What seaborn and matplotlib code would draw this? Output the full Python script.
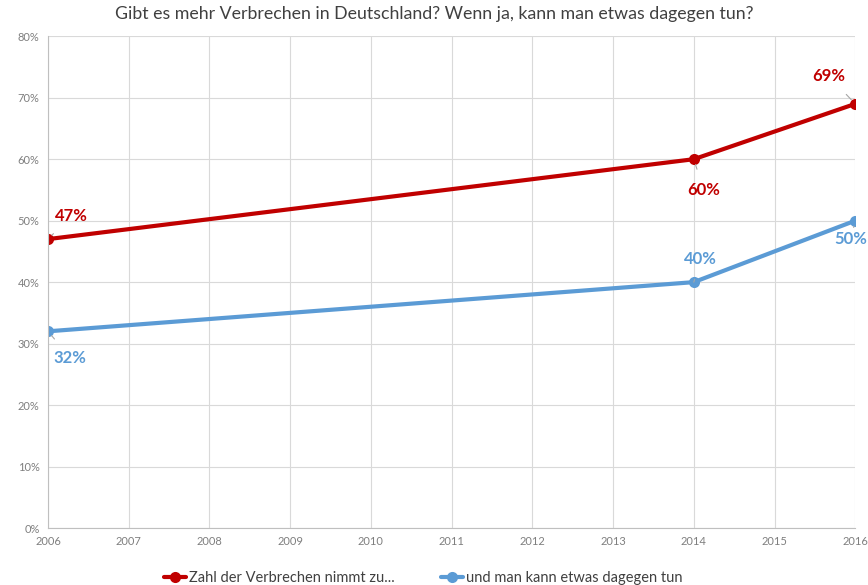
import matplotlib
matplotlib.use("Agg")
import matplotlib.pyplot as plt
import seaborn as sns
import pandas as pd
from matplotlib.ticker import FuncFormatter

# data
years = [2006, 2014, 2016]
crime_up = [47, 60, 69]
can_do = [32, 40, 50]
series_names = ["Zahl der Verbrechen nimmt zu...", "und man kann etwas dagegen tun"]
colors = ["#C00000", "#5B9BD5"]

df = pd.DataFrame({
    "year": years * 2,
    "value": crime_up + can_do,
    "series": [series_names[0]] * 3 + [series_names[1]] * 3,
})

sns.set_style("white")
plt.rcParams["font.family"] = ["Lato", "DejaVu Sans"]

fig = plt.figure(figsize=(8.68, 5.85), dpi=100)
ax = fig.add_axes([0.0553, 0.0974, 0.93, 0.8406])

sns.lineplot(data=df, x="year", y="value", hue="series", palette=colors,
             marker="o", markersize=8, markeredgewidth=0, linewidth=3,
             ax=ax, legend=True)

ax.set_xlim(2006, 2016)
ax.set_ylim(0, 80)
ax.set_xticks(range(2006, 2017))
ax.set_yticks(range(0, 81, 10))
ax.yaxis.set_major_formatter(FuncFormatter(lambda v, p: f"{int(v)}%"))
ax.tick_params(axis="both", labelsize=8, colors="#7F7F7F", length=0, pad=6)
ax.grid(True, color="#D9D9D9", linewidth=0.8)
ax.set_axisbelow(True)
for side in ["top", "right"]:
    ax.spines[side].set_visible(False)
for side in ["left", "bottom"]:
    ax.spines[side].set_color("#BFBFBF")
ax.set_xlabel("")
ax.set_ylabel("")

# value labels with small leader lines (offsets in points)
label_offsets = {
    (0, 0): (17, 17), (0, 1): (7, -22), (0, 2): (-19, 20),
    (1, 0): (16, -19), (1, 1): (5, 17), (1, 2): (-3, -13),
}
for si, vals in enumerate([crime_up, can_do]):
    for pi, (yr, v) in enumerate(zip(years, vals)):
        dx, dy = label_offsets[(si, pi)]
        ax.annotate(f"{v}%", xy=(yr, v), xytext=(dx, dy),
                    textcoords="offset points", ha="center", va="center",
                    fontsize=12, fontweight="bold", color=colors[si],
                    arrowprops=dict(arrowstyle="-", color="#A6A6A6", lw=0.8,
                                    shrinkA=7, shrinkB=4),
                    annotation_clip=False)

ax.legend(loc="upper center", bbox_to_anchor=(0.465, -0.06), ncol=2,
          frameon=False, fontsize=10.5, handlelength=1.5, handletextpad=0.2,
          columnspacing=3.2, labelcolor="#404040")

fig.suptitle("Gibt es mehr Verbrechen in Deutschland? Wenn ja, kann man etwas dagegen tun?",
             x=0.5, y=0.99, fontsize=12.8, color="#404040")

fig.savefig("out.png", dpi=100)
